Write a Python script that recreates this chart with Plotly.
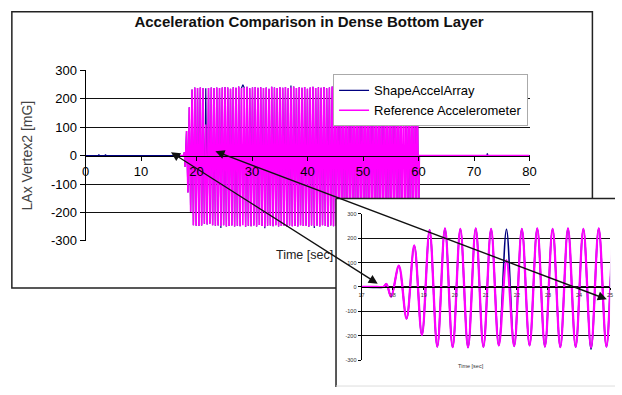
import numpy as np
import plotly.graph_objects as go

W, H = 622, 395
FONT = "Arial, Liberation Sans, sans-serif"
NAVY = "#000080"
MAGENTA = "#FF00FF"

# ---------------------------------------------------------------- data
# Shaking record: extrema of the ~2 Hz base motion, one every half period
HALF_PERIOD = 0.2475
FIRST_PEAK_T = 18.2
ref_extrema = [
    87, -130, 170, -198, 233, -245, 240, -247, 238, -248,
    240, -246, 238, -240, 110, -243, 238, -240, 240, -245,
    238, -247, 240, -246, 238, -248, 240, -245, 242, -250,
    240, -248, 236, -246, 241, -250, 239, -247, 244, -249,
    238, -245, 240, -251, 243, -247, 237, -249, 240, -246,
    242, -250, 239, -244, 241, -248, 238, -251, 240, -247,
    236, -246, 243, -249, 240, -245, 238, -250, 241, -248,
    239, -247, 242, -251, 237, -246, 240, -249, 244, -248,
    238, -250, 241, -245, 239, -248, 242, -247, 236, -251,
    240, -246, 243, -249, 238, -247, 241, -250, 239, -245,
    242, -248, 237, -251, 240, -246, 244, -249, 238, -247,
    241, -250, 239, -245, 242, -248, 236, -247, 240, -251,
    243, -246, 238, -249, 241, -247, 239, -250, 242, -248,
    237, -245, 240, -251, 244, -246, 238, -249, 241, -247,
    239, -250, 242, -248, 236, -247, 240, -251, 243, -246,
    238, -249, 241, -247, 239, -250, 242, -245, 237, -248,
    240, -251, 244, -246, 238, -249, 241, -247, 239, -244,
]
# ShapeAccelArray follows the reference except at these extrema
array_extrema_diff = {14: 237, 25: -255, 41: 250, 57: -256, 76: 247,
                      93: -255, 108: 249, 127: -256, 140: 246, 158: -254}

# first small wiggles before the shaking builds up
onset_t = [17.7, 17.8, 17.95]
onset_v = [0, 12, -40]

# quiet periods (ShapeAccelArray shows a few small blips)
array_pre_t = [0.0, 2.3, 2.4, 2.5, 3.5, 3.6, 3.7, 17.0]
array_pre_v = [0, 0, 4, 0, 0, 4, 0, 0]
ref_pre_t = [17.0, 17.5]
ref_pre_v = [0, 0]
array_post_t = [60.15, 60.4, 72.3, 72.4, 72.5, 80.0]
array_post_v = [0, 0, 0, 8, 0, 0]
ref_post_t = [60.15, 60.4, 80.0]
ref_post_v = [0, 0, 0]

# axes
main_yticks = [-300, -200, -100, 0, 100, 200, 300]
main_yticktext = ["-300", "-200", "-100", "0", "100", "200", "300"]
main_xticks = [0, 10, 20, 30, 40, 50, 60, 70, 80]
inset_xticks = [17, 18, 19, 20, 21, 22, 23, 24, 25]

# arrows linking the main chart to the zoomed view
arrow_main_pts = [(15.4, 12), (23.4, 15)]
arrow_inset_pts = [(17.45, 30), (24.72, -30)]

# ---------------------------------------------------------------- series
ext_t = list(FIRST_PEAK_T + HALF_PERIOD * np.arange(len(ref_extrema)))
array_extrema = [array_extrema_diff.get(i, v) for i, v in enumerate(ref_extrema)]

ref_t = ref_pre_t + onset_t + ext_t + ref_post_t
ref_v = ref_pre_v + onset_v + ref_extrema + ref_post_v
arr_t = array_pre_t + onset_t + ext_t + array_post_t
arr_v = array_pre_v + onset_v + array_extrema + array_post_v

# ---------------------------------------------------------------- layout geometry
main_xdom = [83 / W, 535 / W]
main_ydom = [1 - 243 / H, 1 - 66 / H]
main_xr, main_yr = [0, 80], [-300, 300]

cover_xdom = [338 / W, 1.0]
cover_ydom = [0.0, 1 - 199 / H]

inset_xdom = [364 / W, 617 / W]
inset_ydom = [1 - 367 / H, 1 - 215 / H]
inset_xr, inset_yr = [17, 25], [-300, 300]


def to_px(xv, yv, xdom, ydom, xr, yr):
    fx = xdom[0] + (xv - xr[0]) / (xr[1] - xr[0]) * (xdom[1] - xdom[0])
    fy = ydom[0] + (yv - yr[0]) / (yr[1] - yr[0]) * (ydom[1] - ydom[0])
    return fx * W, (1 - fy) * H


fig = go.Figure()

# main chart
fig.add_trace(go.Scatter(x=arr_t, y=arr_v, mode="lines", name="ShapeAccelArray",
                         line=dict(color=NAVY, width=1.2), xaxis="x", yaxis="y",
                         hoverinfo="skip"))
fig.add_trace(go.Scatter(x=ref_t, y=ref_v, mode="lines", name="Reference Accelerometer",
                         line=dict(color=MAGENTA, width=1.6), xaxis="x", yaxis="y",
                         hoverinfo="skip"))

# white card behind the zoomed view
fig.add_trace(go.Scatter(x=[0, 1, 1, 0, 0], y=[0, 0, 1, 1, 0], mode="lines",
                         fill="toself", fillcolor="white", line=dict(width=0),
                         xaxis="x2", yaxis="y2", showlegend=False, hoverinfo="skip"))

# zoomed view 17-25 s
fig.add_trace(go.Scatter(x=arr_t, y=arr_v, mode="lines", showlegend=False,
                         line=dict(color=NAVY, width=1.6, shape="spline"),
                         xaxis="x3", yaxis="y3", hoverinfo="skip"))
fig.add_trace(go.Scatter(x=ref_t, y=ref_v, mode="lines", showlegend=False,
                         line=dict(color=MAGENTA, width=2.3, shape="spline"),
                         xaxis="x3", yaxis="y3", hoverinfo="skip"))

axis_common = dict(showline=True, linecolor="black", linewidth=1, zeroline=False,
                   ticks="outside", tickcolor="black")

fig.update_layout(
    width=W, height=H, margin=dict(l=0, r=0, t=0, b=0),
    paper_bgcolor="white", plot_bgcolor="white",
    font=dict(family=FONT, color="black", size=13),
    title=dict(text="<b>Acceleration Comparison in Dense Bottom Layer</b>",
               x=(main_xdom[0] + main_xdom[1]) / 2, xanchor="center",
               y=1 - 22 / H, yanchor="middle",
               font=dict(family=FONT, size=15, color="#111")),
    xaxis=dict(domain=main_xdom, range=main_xr, anchor="free",
               position=(main_ydom[0] + main_ydom[1]) / 2,
               tickvals=main_xticks, ticklen=4, showgrid=False,
               tickfont=dict(size=13), **axis_common),
    yaxis=dict(domain=main_ydom, range=main_yr, anchor="x",
               tickvals=main_yticks, ticktext=main_yticktext, ticklen=5,
               showgrid=True, gridcolor="#111", gridwidth=1.2,
               tickfont=dict(size=13),
               title=dict(text="LAx Vertex2 [mG]", standoff=14,
                          font=dict(size=14, color="#444")),
               **axis_common),
    xaxis2=dict(domain=cover_xdom, range=[0, 1], visible=False, anchor="y2"),
    yaxis2=dict(domain=cover_ydom, range=[0, 1], visible=False, anchor="x2"),
    xaxis3=dict(domain=inset_xdom, range=inset_xr, anchor="free",
                position=(inset_ydom[0] + inset_ydom[1]) / 2,
                tickvals=inset_xticks, ticklen=2, showgrid=False,
                tickfont=dict(size=5.5, color="#333"), **axis_common),
    yaxis3=dict(domain=inset_ydom, range=inset_yr, anchor="x3",
                tickvals=main_yticks, ticktext=main_yticktext, ticklen=3,
                showgrid=True, gridcolor="#111", gridwidth=1.2,
                tickfont=dict(size=5.5, color="#333"), **axis_common),
    legend=dict(x=335 / W, y=1 - 70 / H, xanchor="left", yanchor="top",
                bgcolor="white", bordercolor="#aaa", borderwidth=1,
                font=dict(size=13), itemwidth=30, tracegroupgap=0),
    showlegend=True,
)

# frame of the main chart and of the zoomed card
fig.add_shape(type="rect", xref="paper", yref="paper",
              x0=8 / W, x1=599 / W, y0=1 - 292 / H, y1=1 - 5 / H,
              line=dict(color="#222", width=1.5), layer="below")
fig.add_shape(type="line", xref="paper", yref="paper",
              x0=cover_xdom[0], x1=cover_xdom[0], y0=cover_ydom[0], y1=cover_ydom[1],
              line=dict(color="#222", width=1.5), layer="above")
fig.add_shape(type="line", xref="paper", yref="paper",
              x0=cover_xdom[0], x1=1.0, y0=cover_ydom[1], y1=cover_ydom[1],
              line=dict(color="#222", width=1.5), layer="above")
fig.add_shape(type="line", xref="paper", yref="paper",
              x0=cover_xdom[0], x1=1.0, y0=1 - 394 / H, y1=1 - 394 / H,
              line=dict(color="#ddd", width=1), layer="above")

# axis title of the main chart, below the plot
fig.add_annotation(text="Time [sec]", xref="paper", yref="paper",
                   x=306 / W, y=1 - 267 / H,
                   showarrow=False, font=dict(size=12.5, color="#222"))
# axis title of the zoomed view
fig.add_annotation(text="Time [sec]", xref="paper", yref="paper",
                   x=(inset_xdom[0] + inset_xdom[1]) / 2, y=1 - 378 / H,
                   showarrow=False, font=dict(size=5.5, color="#333"))

# double-headed arrows from the main chart into the zoomed view
for (mx, my), (ix, iy) in zip(arrow_main_pts, arrow_inset_pts):
    hx, hy = to_px(mx, my, main_xdom, main_ydom, main_xr, main_yr)
    tx, ty = to_px(ix, iy, inset_xdom, inset_ydom, inset_xr, inset_yr)
    fig.add_annotation(x=mx, y=my, xref="x", yref="y", text="",
                       ax=tx - hx, ay=ty - hy, axref="pixel", ayref="pixel",
                       showarrow=True, arrowside="end+start",
                       arrowhead=2, startarrowhead=2,
                       arrowsize=1.3, startarrowsize=1.3,
                       arrowwidth=1.4, arrowcolor="#111")

fig.write_html("out.html")
